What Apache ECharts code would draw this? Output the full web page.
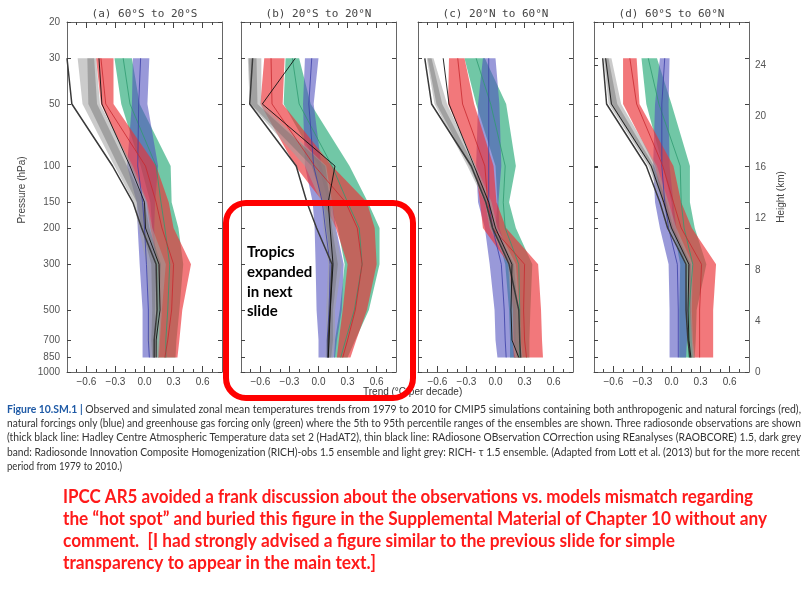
<!DOCTYPE html>
<html><head><meta charset="utf-8">
<script src="https://cdn.jsdelivr.net/npm/echarts@6/dist/echarts.min.js"></script>
<style>html,body{margin:0;padding:0;background:#fff}#c{width:812px;height:608px}</style>
</head><body><div id="c"></div>
<script>
// ---------------- data ----------------
const P = [30, 50, 100, 150, 200, 300, 500, 700, 850];           // pressure levels (hPa)
const pressureTicks = [20, 30, 50, 100, 150, 200, 300, 500, 700, 850, 1000];
const trendLabels = [-0.6, -0.3, 0, 0.3, 0.6];
const trendMinor = [-0.7,-0.6,-0.5,-0.4,-0.3,-0.2,-0.1,0,0.1,0.2,0.3,0.4,0.5,0.6,0.7];
const heightTicks = [0, 4, 8, 12, 16, 20, 24];
const titles = ['(a) 60°S to 20°S', '(b) 20°S to 20°N', '(c) 20°N to 60°N', '(d) 60°S to 60°N'];

// (a) 60S-20S
const redLo_a   = [-0.50, -0.45, -0.14, 0.02, 0.06, 0.14, 0.16, 0.15, 0.14];
const redHi_a   = [-0.32, -0.32, 0.12, 0.25, 0.30, 0.48, 0.39, 0.36, 0.34];
const redMid_a  = [-0.45, -0.40, 0.01, 0.12, 0.18, 0.30, 0.28, 0.24, 0.21];
const grnLo_a   = [-0.31, -0.24, -0.04, 0.06, 0.08, 0.12, 0.12, 0.12, 0.13];
const grnHi_a   = [-0.13, -0.05, 0.27, 0.28, 0.35, 0.40, 0.36, 0.33, 0.32];
const grnMid_a  = [-0.22, -0.15, 0.12, 0.17, 0.21, 0.26, 0.24, 0.22, 0.22];
const bluLo_a   = [-0.12, -0.13, -0.18, -0.08, -0.07, -0.05, -0.02, -0.02, -0.02];
const bluHi_a   = [0.05, 0.03, 0.14, 0.11, 0.10, 0.12, 0.11, 0.11, 0.11];
const bluMid_a  = [-0.04, -0.06, -0.07, -0.02, 0.00, 0.02, 0.04, 0.04, 0.05];
const tauLo_a   = [-0.69, -0.64, -0.31, -0.11, -0.06, 0.02, 0.05, 0.03, 0.06];
const tauHi_a   = [-0.50, -0.46, -0.12, 0.03, 0.08, 0.22, 0.18, 0.16, 0.15];
const obsLo_a   = [-0.59, -0.58, -0.27, -0.08, -0.03, 0.07, 0.08, 0.07, 0.08];
const obsHi_a   = [-0.52, -0.49, -0.18, 0.00, 0.05, 0.17, 0.15, 0.13, 0.13];
const hadat_a   = [-0.80, -0.75, -0.33, -0.12, -0.03, 0.12, 0.13, 0.10, 0.10];
const raob_a    = [-0.47, -0.44, -0.15, 0.00, 0.01, 0.15, 0.16, 0.12, 0.12];

// (b) 20S-20N
const redLo_b   = [-0.56, -0.60, -0.24, 0.05, 0.18, 0.30, 0.25, 0.21, 0.19];
const redHi_b   = [-0.35, -0.37, 0.14, 0.50, 0.58, 0.60, 0.50, 0.39, 0.33];
const redMid_b  = [-0.49, -0.48, -0.04, 0.28, 0.40, 0.45, 0.38, 0.30, 0.25];
const grnLo_b   = [-0.34, -0.36, 0.00, 0.10, 0.20, 0.27, 0.22, 0.17, 0.16];
const grnHi_b   = [-0.20, -0.08, 0.32, 0.51, 0.63, 0.63, 0.52, 0.38, 0.30];
const grnMid_b  = [-0.27, -0.20, 0.14, 0.30, 0.42, 0.45, 0.37, 0.28, 0.23];
const bluLo_b   = [-0.14, -0.16, -0.14, -0.06, -0.04, -0.03, -0.02, 0.00, 0.00];
const bluHi_b   = [0.00, -0.05, 0.03, 0.14, 0.18, 0.26, 0.24, 0.19, 0.17];
const bluMid_b  = [-0.07, -0.10, -0.05, 0.04, 0.07, 0.12, 0.11, 0.09, 0.09];
const tauLo_b   = [-0.73, -0.71, -0.14, 0.03, 0.05, 0.10, 0.08, 0.08, 0.07];
const tauHi_b   = [-0.59, -0.59, 0.08, 0.14, 0.17, 0.24, 0.17, 0.17, 0.15];
const obsLo_b   = [-0.72, -0.70, -0.07, 0.05, 0.08, 0.13, 0.10, 0.10, 0.09];
const obsHi_b   = [-0.64, -0.63, 0.07, 0.12, 0.14, 0.20, 0.15, 0.15, 0.13];
const hadat_b   = [-0.68, -0.71, -0.23, -0.12, -0.02, 0.14, 0.12, 0.10, 0.10];
const raob_b    = [-0.24, -0.58, 0.17, 0.10, 0.12, 0.15, 0.12, 0.11, 0.10];

// (c) 20N-60N
const redLo_c   = [-0.48, -0.49, -0.21, -0.16, -0.13, 0.14, 0.18, 0.18, 0.19];
const redHi_c   = [-0.32, -0.22, -0.02, 0.01, 0.11, 0.44, 0.47, 0.48, 0.49];
const redMid_c  = [-0.39, -0.34, -0.11, -0.08, -0.03, 0.30, 0.29, 0.30, 0.32];
const grnLo_c   = [-0.32, -0.20, 0.00, 0.02, 0.00, 0.10, 0.14, 0.15, 0.15];
const grnHi_c   = [-0.11, 0.11, 0.21, 0.14, 0.21, 0.38, 0.36, 0.35, 0.35];
const grnMid_c  = [-0.20, -0.05, 0.10, 0.08, 0.10, 0.24, 0.25, 0.25, 0.25];
const bluLo_c   = [-0.13, -0.18, -0.20, -0.18, -0.11, -0.06, -0.01, 0.00, 0.02];
const bluHi_c   = [0.00, 0.04, 0.06, 0.03, 0.04, 0.16, 0.21, 0.21, 0.21];
const bluMid_c  = [-0.07, -0.07, -0.07, -0.07, -0.03, 0.06, 0.09, 0.10, 0.11];
const tauLo_c   = [-0.71, -0.63, -0.29, -0.11, -0.06, 0.13, 0.16, 0.17, 0.20];
const tauHi_c   = [-0.64, -0.50, -0.20, -0.04, 0.02, 0.21, 0.25, 0.26, 0.28];
const obsLo_c   = [-0.70, -0.61, -0.27, -0.10, -0.05, 0.15, 0.18, 0.19, 0.22];
const obsHi_c   = [-0.66, -0.55, -0.22, -0.06, 0.00, 0.19, 0.23, 0.24, 0.26];
const hadat_c   = [-0.73, -0.66, -0.25, -0.10, -0.03, 0.14, 0.24, 0.25, 0.26];
const raob_c    = [-0.54, -0.48, -0.22, -0.07, 0.00, 0.17, 0.16, 0.17, 0.24];

// (d) 60S-60N
const redLo_d   = [-0.50, -0.50, -0.17, -0.09, 0.00, 0.17, 0.19, 0.21, 0.22];
const redHi_d   = [-0.36, -0.33, 0.02, 0.10, 0.21, 0.46, 0.43, 0.43, 0.43];
const redMid_d  = [-0.43, -0.36, -0.09, 0.02, 0.10, 0.31, 0.29, 0.29, 0.29];
const grnLo_d   = [-0.31, -0.26, -0.09, 0.00, 0.02, 0.09, 0.08, 0.08, 0.08];
const grnHi_d   = [-0.15, 0.00, 0.19, 0.19, 0.24, 0.36, 0.26, 0.25, 0.24];
const grnMid_d  = [-0.24, -0.13, 0.09, 0.10, 0.13, 0.22, 0.18, 0.18, 0.18];
const bluLo_d   = [-0.12, -0.17, -0.19, -0.17, -0.12, -0.03, -0.02, -0.02, -0.02];
const bluHi_d   = [-0.02, -0.03, -0.02, 0.02, 0.05, 0.15, 0.17, 0.16, 0.15];
const bluMid_d  = [-0.07, -0.10, -0.10, -0.07, -0.03, 0.06, 0.07, 0.07, 0.07];
const tauLo_d   = [-0.70, -0.65, -0.24, -0.10, -0.03, 0.15, 0.16, 0.18, 0.19];
const tauHi_d   = [-0.62, -0.52, -0.15, -0.03, 0.05, 0.22, 0.21, 0.22, 0.24];
const obsLo_d   = [-0.69, -0.63, -0.22, -0.09, -0.02, 0.16, 0.17, 0.19, 0.20];
const obsHi_d   = [-0.65, -0.56, -0.18, -0.05, 0.02, 0.20, 0.20, 0.21, 0.22];
const hadat_d   = [-0.71, -0.67, -0.26, -0.12, -0.04, 0.15, 0.15, 0.17, 0.19];
const raob_d    = [-0.68, -0.62, -0.21, -0.08, 0.00, 0.18, 0.17, 0.18, 0.20];

const captionLines = [
  'Observed and simulated zonal mean temperatures trends from 1979 to 2010 for CMIP5 simulations containing both anthropogenic and natural forcings (red),',
  'natural forcings only (blue) and greenhouse gas forcing only (green) where the 5th to 95th percentile ranges of the ensembles are shown. Three radiosonde observations are shown',
  '(thick black line: Hadley Centre Atmospheric Temperature data set 2 (HadAT2), thin black line: RAdiosone OBservation COrrection using REanalyses (RAOBCORE) 1.5, dark grey',
  'band: Radiosonde Innovation Composite Homogenization (RICH)-obs 1.5 ensemble and light grey: RICH- \u03c4 1.5 ensemble. (Adapted from Lott et al. (2013) but for the more recent',
  'period from 1979 to 2010.)'
];
const commentLines = [
  'IPCC AR5 avoided a frank discussion about the observations vs. models mismatch regarding',
  'the \u201chot spot\u201d and buried this figure in the Supplemental Material of Chapter 10 without any',
  'comment.  [I had strongly advised a figure similar to the previous slide for simple',
  'transparency to appear in the main text.]'
];
const boxLines = ['Tropics', 'expanded', 'in next', 'slide'];

// ---------------- layout / style ----------------
const panels = [
  {red:[redLo_a,redHi_a,redMid_a], grn:[grnLo_a,grnHi_a,grnMid_a], blu:[bluLo_a,bluHi_a,bluMid_a], tau:[tauLo_a,tauHi_a], obs:[obsLo_a,obsHi_a], hadat:hadat_a, raob:raob_a},
  {red:[redLo_b,redHi_b,redMid_b], grn:[grnLo_b,grnHi_b,grnMid_b], blu:[bluLo_b,bluHi_b,bluMid_b], tau:[tauLo_b,tauHi_b], obs:[obsLo_b,obsHi_b], hadat:hadat_b, raob:raob_b},
  {red:[redLo_c,redHi_c,redMid_c], grn:[grnLo_c,grnHi_c,grnMid_c], blu:[bluLo_c,bluHi_c,bluMid_c], tau:[tauLo_c,tauHi_c], obs:[obsLo_c,obsHi_c], hadat:hadat_c, raob:raob_c},
  {red:[redLo_d,redHi_d,redMid_d], grn:[grnLo_d,grnHi_d,grnMid_d], blu:[bluLo_d,bluHi_d,bluMid_d], tau:[tauLo_d,tauHi_d], obs:[obsLo_d,obsHi_d], hadat:hadat_d, raob:raob_d}
];
const gridLefts = [67, 241, 418, 594];
const GW = 155, GT = 22, GH = 350;
const AX = '#666', LB = '#444', FONT = 'Liberation Sans, Arial, sans-serif';

const fmtTrend = v => (v < 0 ? '\u2212' : '') + Math.abs(v).toFixed(1);
const fmtPlain = v => String(Math.round(v));

const grids = [], xAxes = [], yAxes = [], series = [];
gridLefts.forEach((left, g) => {
  grids.push({left, top: GT, width: GW, height: GH});
  const xBase = {gridIndex: g, type: 'value', min: -0.8, max: 0.8, splitLine: {show: false}};
  xAxes.push(Object.assign({}, xBase, {position: 'bottom',
    axisLine: {show: true, onZero: false, lineStyle: {color: AX, width: 1}},
    axisTick: {show: true, inside: true, length: 6, customValues: trendLabels, lineStyle: {color: LB}},
    axisLabel: {show: true, customValues: trendLabels, formatter: fmtTrend, color: LB, fontSize: 10, margin: 5, fontFamily: FONT}}));
  xAxes.push(Object.assign({}, xBase, {position: 'bottom', axisLine: {show: false, onZero: false},
    axisTick: {show: true, inside: true, length: 3, customValues: trendMinor, lineStyle: {color: LB}}, axisLabel: {show: false}}));
  xAxes.push(Object.assign({}, xBase, {position: 'top',
    axisLine: {show: true, onZero: false, lineStyle: {color: AX, width: 1}},
    axisTick: {show: true, inside: true, length: 6, customValues: trendLabels, lineStyle: {color: LB}}, axisLabel: {show: false}}));
  xAxes.push(Object.assign({}, xBase, {position: 'top', axisLine: {show: false, onZero: false},
    axisTick: {show: true, inside: true, length: 3, customValues: trendMinor, lineStyle: {color: LB}}, axisLabel: {show: false}}));
  const yBase = {gridIndex: g, type: 'log', logBase: 10, min: 20, max: 1000, inverse: true, splitLine: {show: false}};
  yAxes.push(Object.assign({}, yBase, {position: 'left',
    axisLine: {show: true, onZero: false, lineStyle: {color: AX, width: 1}},
    axisTick: {show: true, inside: true, length: 4, customValues: pressureTicks, lineStyle: {color: LB}},
    axisLabel: {show: g === 0, customValues: pressureTicks, formatter: fmtPlain, color: '#555', fontSize: 10, margin: 7, fontFamily: FONT}}));
  yAxes.push(Object.assign({}, yBase, {position: 'right', offset: 0,
    axisLine: {show: true, onZero: false, lineStyle: {color: AX, width: 1}},
    axisTick: {show: true, inside: true, length: 4, customValues: pressureTicks, lineStyle: {color: LB}},
    axisLabel: {show: false}}));

  const pn = panels[g];
  const band = (lo, hi, color, z) => ({
    type: 'custom', xAxisIndex: g * 4, yAxisIndex: g * 2, z, silent: true, animation: false,
    data: P.map((p, i) => [lo[i], hi[i], p]), encode: {x: [0, 1], y: 2},
    renderItem: (params, api) => {
      if (params.dataIndex !== 0) return null;
      const pts = [];
      for (let i = 0; i < P.length; i++) pts.push(api.coord([lo[i], P[i]]));
      for (let i = P.length - 1; i >= 0; i--) pts.push(api.coord([hi[i], P[i]]));
      return {type: 'polygon', shape: {points: pts}, style: {fill: color}};
    }
  });
  const line = (vals, color, width, z) => ({
    type: 'line', xAxisIndex: g * 4, yAxisIndex: g * 2, z, silent: true, animation: false,
    symbol: 'none', data: P.map((p, i) => [vals[i], p]), lineStyle: {color, width}
  });
  series.push(band(pn.grn[0], pn.grn[1], 'rgba(40,170,120,0.66)', 2));
  series.push(band(pn.blu[0], pn.blu[1], 'rgba(80,80,190,0.58)', 3));
  series.push(band(pn.red[0], pn.red[1], 'rgba(235,50,55,0.66)', 4));
  series.push(band(pn.tau[0], pn.tau[1], 'rgba(160,160,160,0.55)', 5));
  series.push(band(pn.obs[0], pn.obs[1], 'rgba(110,110,110,0.45)', 6));
  series.push(line(pn.grn[2], '#2f9a70', 0.8, 7));
  series.push(line(pn.blu[2], '#3a3ea6', 0.8, 7));
  series.push(line(pn.red[2], '#c8282e', 0.8, 7));
  series.push(line(pn.hadat, '#3a3a3a', 1.5, 8));
  series.push(line(pn.raob, '#111', 0.9, 8));
});
// height axis: its own grid laid over panel (d)
grids.push({left: gridLefts[3], top: GT, width: GW, height: GH});
xAxes.push({gridIndex: 4, type: 'value', min: 0, max: 1, show: false});
yAxes.push({gridIndex: 4, type: 'value', min: 0, max: 27.4, position: 'right', splitLine: {show: false},
  axisLine: {show: false},
  axisTick: {show: true, inside: false, length: 4, customValues: heightTicks, lineStyle: {color: LB}},
  axisLabel: {show: true, customValues: heightTicks, color: '#555', fontSize: 10, margin: 6, fontFamily: FONT}});

// ---------------- text graphics ----------------
const mctx = document.createElement('canvas').getContext('2d');
const tw = (t, f) => { mctx.font = f; return mctx.measureText(t).width; };
const graphics = [];
titles.forEach((t, g) => graphics.push({type: 'text', x: gridLefts[g] + GW / 2, y: 14,
  style: {text: t, fill: '#444', font: '11px "DejaVu Sans Mono", monospace', align: 'center', verticalAlign: 'middle'}}));
graphics.push({type: 'text', x: 22, y: 190, rotation: Math.PI / 2,
  style: {text: 'Pressure (hPa)', fill: '#444', font: '10px ' + FONT, align: 'center', verticalAlign: 'middle'}});
graphics.push({type: 'text', x: 781, y: 197, rotation: Math.PI / 2,
  style: {text: 'Height (km)', fill: '#444', font: '10px ' + FONT, align: 'center', verticalAlign: 'middle'}});
graphics.push({type: 'text', x: 363, y: 392,
  style: {text: 'Trend (\u00b0C per decade)', fill: '#333', font: '10px ' + FONT, align: 'left', verticalAlign: 'middle'}});

// caption
const capFont = '11px Lato, sans-serif', capBold = 'bold 11px Lato, sans-serif';
const capY = [409, 423, 437, 452, 466];
const capRight = [801, 801, 801, 800, 122];
captionLines.forEach((t, i) => {
  let w, style;
  if (i === 0) {
    w = tw('Figure 10.SM.1 | ', capBold) + tw(t, capFont);
    style = {text: '{b|Figure 10.SM.1 | }' + t, rich: {b: {fill: '#1f5aa6', fontWeight: 'bold', fontSize: 11, fontFamily: 'Lato'}},
      fill: '#333', font: capFont, align: 'left', verticalAlign: 'middle'};
  } else {
    w = tw(t, capFont);
    style = {text: t, fill: '#333', font: capFont, align: 'left', verticalAlign: 'middle'};
  }
  graphics.push({type: 'text', x: 7, y: capY[i], scaleX: (capRight[i] - 7) / w, style});
});
// red comment
const comFont = 'bold 18px Lato, sans-serif';
const comY = [497, 519, 541, 563];
const comRight = [753, 767, 675, 376];
commentLines.forEach((t, i) => {
  const w = tw(t, comFont);
  graphics.push({type: 'text', x: 63, y: comY[i], scaleX: (comRight[i] - 63) / w,
    style: {text: t, fill: '#ff1a1a', font: comFont, align: 'left', verticalAlign: 'middle'}});
});
// box text
const boxY = [252, 272, 292, 311];
boxLines.forEach((t, i) => graphics.push({type: 'text', x: 247, y: boxY[i], z: 101,
  style: {text: t, fill: '#000', font: 'bold 15px Lato, sans-serif', align: 'left', verticalAlign: 'middle'}}));
// red rounded box
graphics.push({type: 'rect', z: 100, shape: {x: 226, y: 203, width: 187, height: 195, r: 20},
  style: {fill: 'none', stroke: '#ff0000', lineWidth: 6}});

const chart = echarts.init(document.getElementById('c'), null, {renderer: 'canvas'});
chart.setOption({
  animation: false, backgroundColor: '#fff',
  grid: grids, xAxis: xAxes, yAxis: yAxes, series, graphic: graphics
});
</script></body></html>
